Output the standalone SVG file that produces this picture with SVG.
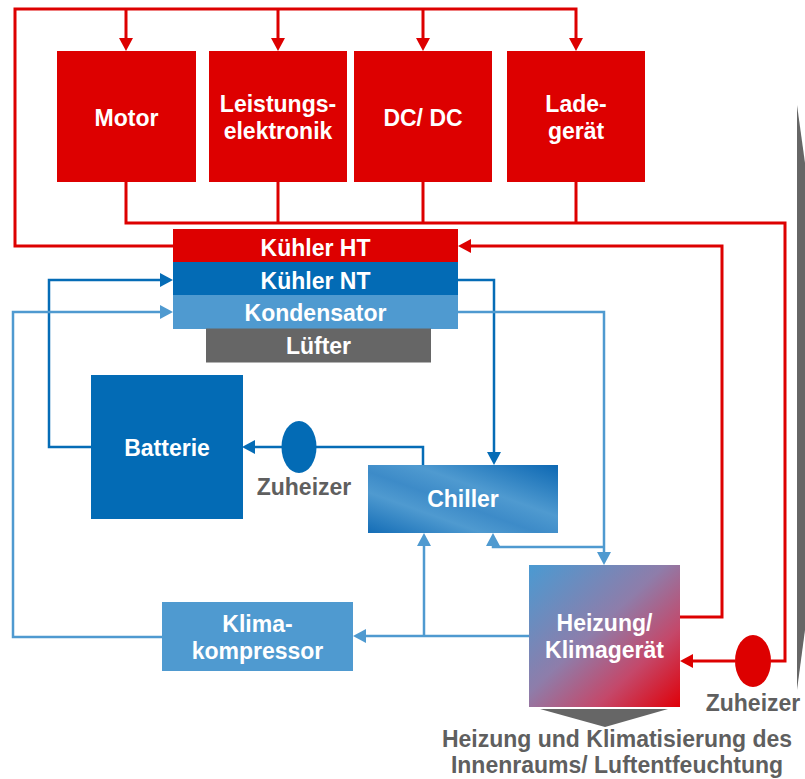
<svg xmlns="http://www.w3.org/2000/svg" width="805" height="779" viewBox="0 0 805 779">
<defs>
<style>
.lbl{font-family:"Liberation Sans",Arial,sans-serif;font-weight:bold;font-size:23px;fill:#ffffff;text-anchor:middle}
.glbl{font-family:"Liberation Sans",Arial,sans-serif;font-weight:bold;font-size:23px;fill:#5f5f5f;text-anchor:middle}
.red{fill:none;stroke:#dd0000;stroke-width:3}
.dblue{fill:none;stroke:#056cb6;stroke-width:2.5}
.lblue{fill:none;stroke:#4f9ad0;stroke-width:2.5}
</style>
<marker id="aR" viewBox="0 0 13 14" refX="9" refY="7" markerWidth="13" markerHeight="14" markerUnits="userSpaceOnUse" orient="auto"><path d="M0,0 L13,7 L0,14 z" fill="#dd0000"/></marker>
<marker id="aD" viewBox="0 0 13 14" refX="9" refY="7" markerWidth="13" markerHeight="14" markerUnits="userSpaceOnUse" orient="auto"><path d="M0,0 L13,7 L0,14 z" fill="#056cb6"/></marker>
<marker id="aL" viewBox="0 0 13 14" refX="9" refY="7" markerWidth="13" markerHeight="14" markerUnits="userSpaceOnUse" orient="auto"><path d="M0,0 L13,7 L0,14 z" fill="#4f9ad0"/></marker>
<linearGradient id="gChiller" x1="0" y1="1" x2="1" y2="0">
<stop offset="0" stop-color="#146db6"/>
<stop offset="0.3" stop-color="#4f9ad0"/>
<stop offset="0.45" stop-color="#3d8bc8"/>
<stop offset="0.62" stop-color="#4f9ad0"/>
<stop offset="1" stop-color="#0d68b3"/>
</linearGradient>
<linearGradient id="gHeiz" x1="0" y1="0" x2="1" y2="1">
<stop offset="0" stop-color="#4a9ad2"/>
<stop offset="0.45" stop-color="#8e7daa"/>
<stop offset="0.72" stop-color="#c4486a"/>
<stop offset="1" stop-color="#e00008"/>
</linearGradient>
</defs>
<rect width="805" height="779" fill="#ffffff"/>

<g id="connectors">
<!-- red high-temperature loop -->
<path class="red" d="M173,246 H15 V9 H576 V47" marker-end="url(#aR)"/>
<path class="red" d="M126,9 V47" marker-end="url(#aR)"/>
<path class="red" d="M278,9 V47" marker-end="url(#aR)"/>
<path class="red" d="M423,9 V47" marker-end="url(#aR)"/>
<path class="red" d="M126,182 V223 H785 V661 H771"/>
<path class="red" d="M278,182 V223"/>
<path class="red" d="M423,182 V223"/>
<path class="red" d="M576,182 V223"/>
<path class="red" d="M735,661 H684" marker-end="url(#aR)"/>
<path class="red" d="M680,617 H722 V246 H462" marker-end="url(#aR)"/>
<!-- dark blue low-temperature loop -->
<path class="dblue" d="M91,447 H49 V280 H169" marker-end="url(#aD)"/>
<path class="dblue" d="M458,280 H494 V461" marker-end="url(#aD)"/>
<path class="dblue" d="M423,465 V447 H246" marker-end="url(#aD)"/>
<!-- light blue refrigerant loop -->
<path class="lblue" d="M162,637 H13 V312 H169" marker-end="url(#aL)"/>
<path class="lblue" d="M458,312 H604 V561" marker-end="url(#aL)"/>
<path class="lblue" d="M604,547 H493 V537" marker-end="url(#aL)"/>
<path class="lblue" d="M529,636 H357" marker-end="url(#aL)"/>
<path class="lblue" d="M424,636 V537" marker-end="url(#aL)"/>
</g>

<g id="motor"><rect x="57" y="51" width="139" height="131" fill="#dd0000"/><text class="lbl" x="126.5" y="126">Motor</text></g>
<g id="leistungselektronik"><rect x="209" y="51" width="138" height="131" fill="#dd0000"/><text class="lbl" x="278" y="111.5">Leistungs-</text><text class="lbl" x="278" y="139">elektronik</text></g>
<g id="dcdc"><rect x="354" y="51" width="138" height="131" fill="#dd0000"/><text class="lbl" x="423" y="126">DC/ DC</text></g>
<g id="ladegeraet"><rect x="507" y="51" width="138" height="131" fill="#dd0000"/><text class="lbl" x="576" y="111.5">Lade-</text><text class="lbl" x="576" y="139">gerät</text></g>

<g id="kuehler-ht"><rect x="173" y="229" width="285" height="33.5" fill="#dd0000"/><text class="lbl" x="315.5" y="255.5">Kühler HT</text></g>
<g id="kuehler-nt"><rect x="173" y="262" width="285" height="33.5" fill="#036bb5"/><text class="lbl" x="315.5" y="288.5">Kühler NT</text></g>
<g id="kondensator"><rect x="173" y="295" width="285" height="34" fill="#4f9ad0"/><text class="lbl" x="315.5" y="321">Kondensator</text></g>
<g id="luefter"><rect x="206" y="328.5" width="225" height="34" fill="#666666"/><text class="lbl" x="318.5" y="353.5">Lüfter</text></g>

<g id="batterie"><rect x="91" y="375" width="152" height="144" fill="#036bb5"/><text class="lbl" x="167" y="455.5">Batterie</text></g>
<g id="zuheizer-nt"><ellipse cx="299" cy="447" rx="17.5" ry="26" fill="#036bb5"/><text class="glbl" x="304" y="495">Zuheizer</text></g>
<g id="chiller"><rect x="368" y="465" width="190" height="68" fill="url(#gChiller)"/><text class="lbl" x="463" y="507">Chiller</text></g>
<g id="klimakompressor"><rect x="162" y="602" width="191" height="69" fill="#4f9ad0"/><text class="lbl" x="257.5" y="631.5">Klima-</text><text class="lbl" x="257.5" y="659">kompressor</text></g>
<g id="heizung"><rect x="529" y="565" width="151" height="142" fill="url(#gHeiz)"/><text class="lbl" x="604.5" y="630.5">Heizung/</text><text class="lbl" x="604.5" y="658">Klimagerät</text></g>
<g id="zuheizer-ht"><ellipse cx="753" cy="661" rx="18" ry="26" fill="#dd0000"/><text class="glbl" x="753" y="710.5">Zuheizer</text></g>

<g id="innenraum">
<polygon points="540,709 668,709 605,727" fill="#666666"/>
<text class="glbl" x="617" y="746.5">Heizung und Klimatisierung des</text>
<text class="glbl" x="617" y="772.5">Innenraums/ Luftentfeuchtung</text>
</g>
<g id="side-arrow"><polygon points="797,105 805,163 805,630 797,690" fill="#666666"/></g>
</svg>
